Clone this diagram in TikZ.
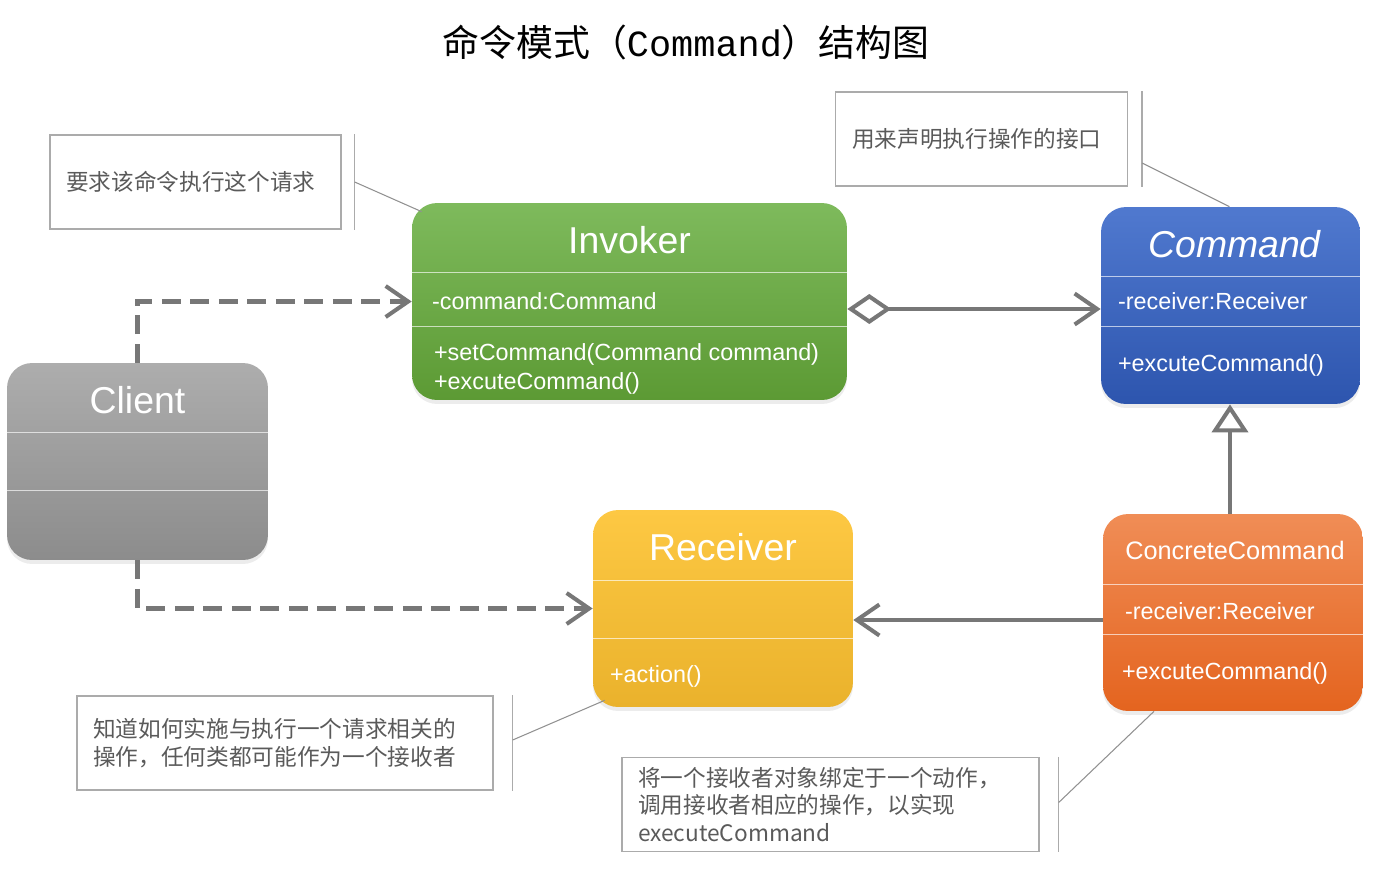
\documentclass[tikz,border=0pt]{standalone}
\usepackage{fontspec}
\setmainfont{Liberation Sans}
\newfontfamily\cjk{Noto Sans CJK SC}
\newfontfamily\titlemono{Liberation Mono}
\usetikzlibrary{calc, arrows.meta, shadows}

\definecolor{invtop}{HTML}{7EBA5C}
\definecolor{invbot}{HTML}{5C9A34}
\definecolor{cmdtop}{HTML}{5079CF}
\definecolor{cmdbot}{HTML}{2D55AE}
\definecolor{cltop}{HTML}{ADADAD}
\definecolor{clbot}{HTML}{8C8C8C}
\definecolor{rcvtop}{HTML}{FDC843}
\definecolor{rcvbot}{HTML}{EAB22C}
\definecolor{cctop}{HTML}{F08D56}
\definecolor{ccbot}{HTML}{E4641F}
\definecolor{notegray}{HTML}{ABABAB}
\definecolor{notetext}{HTML}{5A5A5A}
\definecolor{linkgray}{HTML}{777777}

\begin{document}
\begin{tikzpicture}[x=0.02cm, y=-0.02cm,
  umlbox/.style={rounded corners=0.5cm, minimum height=3.94cm, inner sep=0pt,
    drop shadow={shadow xshift=0pt, shadow yshift=-0.08cm, opacity=0.15}},
  clsname/.style={text=white, inner sep=0pt, font=\fontsize{21.3}{24}\selectfont},
  member/.style={text=white, anchor=west, align=left, inner sep=0pt,
    font=\fontsize{13.3}{16.4}\selectfont},
  divider/.style={draw=white, draw opacity=0.65, line width=0.6pt},
  note/.style={draw=notegray, line width=0.8pt, align=left, inner xsep=0.32cm,
    inner ysep=0pt, minimum height=1.88cm, text=notetext,
    font=\cjk\fontsize{12.9}{15.6}\selectfont},
  notebar/.style={draw=notegray, line width=0.8pt},
  noteline/.style={draw=notegray!85!black, line width=0.6pt},
  link/.style={draw=linkgray, line width=2.3pt},
  dep/.style={link, dash pattern=on 0.38cm off 0.19cm,
    -{Straight Barb[length=0.45cm, width=0.62cm]}},
  assoc/.style={link, -{Straight Barb[length=0.45cm, width=0.62cm]}},
  aggr/.style={link, {Diamond[length=0.88cm, width=0.6cm, fill=white]}-{Straight Barb[length=0.45cm, width=0.62cm]}},
  gen/.style={link, -{Triangle[length=0.56cm, width=0.72cm, fill=white]}},
]
  \useasboundingbox (0,0) rectangle (1377,877);

  % 标题
  \node (title) at (686,42) {\fontsize{21}{24}\selectfont\cjk 命令模式（{\titlemono Command}）结构图};

  % 类框
  \node[umlbox, minimum width=8.7cm, top color=invtop, bottom color=invbot] (inv) at (629.5,301.5) {};
  \node[umlbox, minimum width=5.18cm, top color=cmdtop, bottom color=cmdbot] (cmd) at (1230.5,305.5) {};
  \node[umlbox, minimum width=5.22cm, top color=cltop, bottom color=clbot] (cl) at (137.5,461.5) {};
  \node[umlbox, minimum width=5.2cm, top color=rcvtop, bottom color=rcvbot] (rcv) at (723,608.5) {};
  \node[umlbox, minimum width=5.2cm, top color=cctop, bottom color=ccbot] (cc) at (1233,612.5) {};

  % 分隔线
  \foreach \cls/\ya/\yb in {inv/70/124, cmd/70/120, cl/70/128, rcv/71/129, cc/71/121} {
    \draw[divider] ($(\cls.north west)+(0,\ya)$) -- ($(\cls.north east)+(0,\ya)$);
    \draw[divider] ($(\cls.north west)+(0,\yb)$) -- ($(\cls.north east)+(0,\yb)$);
  }

  % 类名
  \node[clsname] (invname) at ($(inv.north)+(0,37)$) {Invoker};
  \node[clsname] (cmdname) at ($(cmd.north)+(4,37)$) {\itshape Command};
  \node[clsname] (clname) at ($(cl.north)+(0,37)$) {Client};
  \node[clsname] (rcvname) at ($(rcv.north)+(0,37)$) {Receiver};
  \node[clsname, font=\fontsize{14.4}{17}\selectfont] (ccname) at ($(cc.north)+(2,37)$) {ConcreteCommand};

  % 成员
  \node[member] (invattr) at ($(inv.north west)+(20,98)$) {-command:Command};
  \node[member] (invops) at ($(inv.north west)+(22,166.5)$) {+setCommand(Command command)\\+excuteCommand()};
  \node[member] (cmdattr) at ($(cmd.north west)+(17,94)$) {-receiver:Receiver};
  \node[member] (cmdops) at ($(cmd.north west)+(17,159)$) {+excuteCommand()};
  \node[member] (rcvops) at ($(rcv.north west)+(17,167)$) {+action()};
  \node[member] (ccattr) at ($(cc.north west)+(22,97)$) {-receiver:Receiver};
  \node[member] (ccops) at ($(cc.north west)+(19,160)$) {+excuteCommand()};

  % 关系
  \draw[dep] (cl.north) |- (inv.west);
  \draw[dep] (cl.south) |- (rcv.west);
  \draw[aggr] ($(inv.east)+(0,7.5)$) coordinate (aggrstart) -- (aggrstart -| cmd.west);
  \draw[assoc] ($(cc.west)+(0,7.5)$) coordinate (assocstart) -- (assocstart -| rcv.east);
  \draw[gen] ($(cc.north)+(-3,0)$) coordinate (genstart) -- (genstart |- cmd.south);

  % 注释
  \node[note, text width=5.18cm] (n1) at (195.5,182) {要求该命令执行这个请求};
  \node[note, text width=5.18cm, inner xsep=0.33cm] (n2) at (981.5,139) {用来声明执行操作的接口};
  \node[note, text width=7.68cm] (n3) at (285,743) {知道如何实施与执行一个请求相关的\\操作，任何类都可能作为一个接收者};
  \node[note, text width=7.7cm] (n4) at (830.5,804.5) {将一个接收者对象绑定于一个动作，\\调用接收者相应的操作，以实现\\executeCommand};

  \draw[notebar] ($(n1.north east)+(13,0)$) -- ($(n1.south east)+(13,0)$);
  \draw[notebar] ($(n2.north east)+(14,0)$) -- ($(n2.south east)+(14,0)$);
  \draw[notebar] ($(n3.north east)+(19,0)$) -- ($(n3.south east)+(19,0)$);
  \draw[notebar] ($(n4.north east)+(19,0)$) -- ($(n4.south east)+(19,0)$);
  \draw[noteline] ($(n1.east)+(13,0)$) -- ($(inv.north west)+(10,9)$);
  \draw[noteline] ($(n2.east)+(14,24)$) -- ($(cmd.north)+(-1,0)$);
  \draw[noteline] ($(n3.east)+(19,-3)$) -- ($(rcv.south west)+(12,-7)$);
  \draw[noteline] ($(n4.east)+(19,-2)$) -- ($(cc.south)+(-79,0)$);
\end{tikzpicture}
\end{document}
